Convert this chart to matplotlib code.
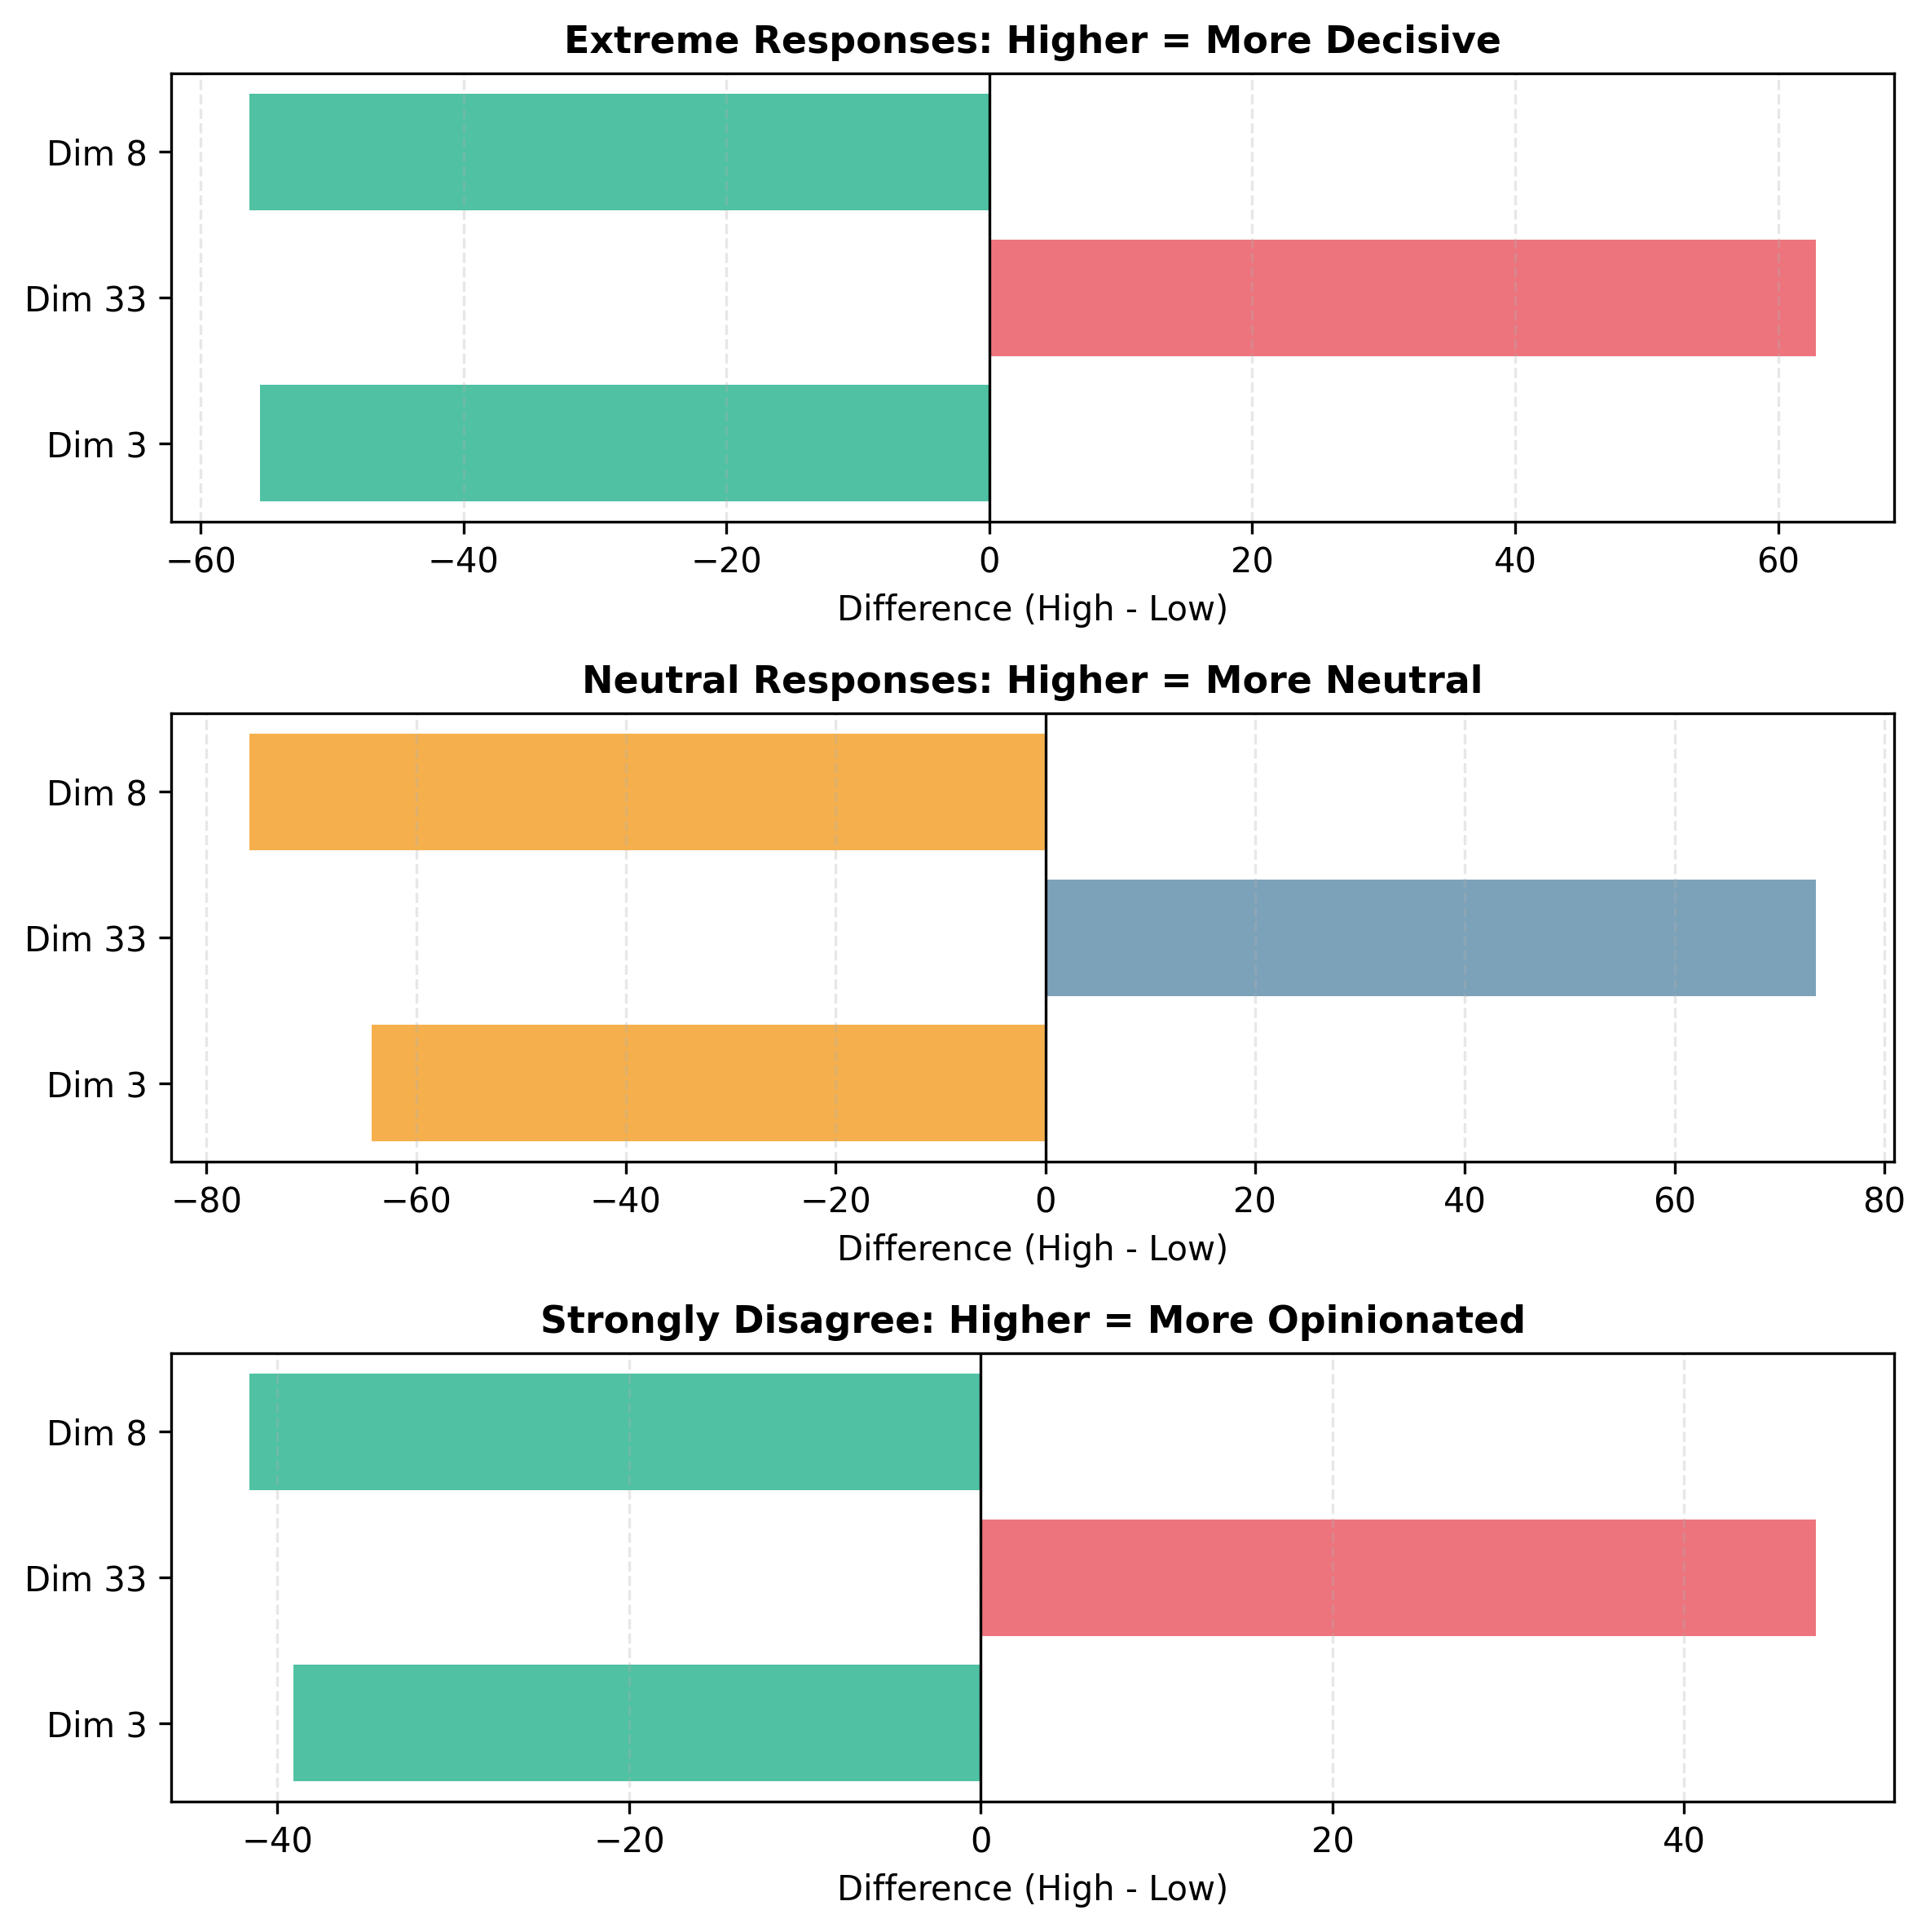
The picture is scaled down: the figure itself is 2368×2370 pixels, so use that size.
import matplotlib
matplotlib.use("Agg")
import matplotlib.pyplot as plt

dims = ["Dim 3", "Dim 33", "Dim 8"]
extreme_vals = [-55.5, 62.9, -56.3]
neutral_vals = [-64.2, 73.5, -75.9]
disagree_vals = [-39.1, 47.5, -41.6]

titles = [
    "Extreme Responses: Higher = More Decisive",
    "Neutral Responses: Higher = More Neutral",
    "Strongly Disagree: Higher = More Opinionated",
]
pos_colors = ["#e63946", "#457b9d", "#e63946"]
neg_colors = ["#06a77d", "#f18f01", "#06a77d"]
series = [extreme_vals, neutral_vals, disagree_vals]

fig, axes = plt.subplots(3, 1, figsize=(8, 8), dpi=300)
for ax, vals, title, pc, nc in zip(axes, series, titles, pos_colors, neg_colors):
    colors = [pc if v > 0 else nc for v in vals]
    ax.barh(dims, vals, color=colors, alpha=0.7, height=0.8)
    ax.axvline(0, color="black", linewidth=0.8)
    ax.set_xlabel("Difference (High - Low)")
    ax.set_title(title, fontweight="bold", fontsize=11)
    ax.grid(axis="x", alpha=0.3, linestyle="--")

plt.tight_layout()
fig.savefig("out.png", dpi=300, bbox_inches="tight")
